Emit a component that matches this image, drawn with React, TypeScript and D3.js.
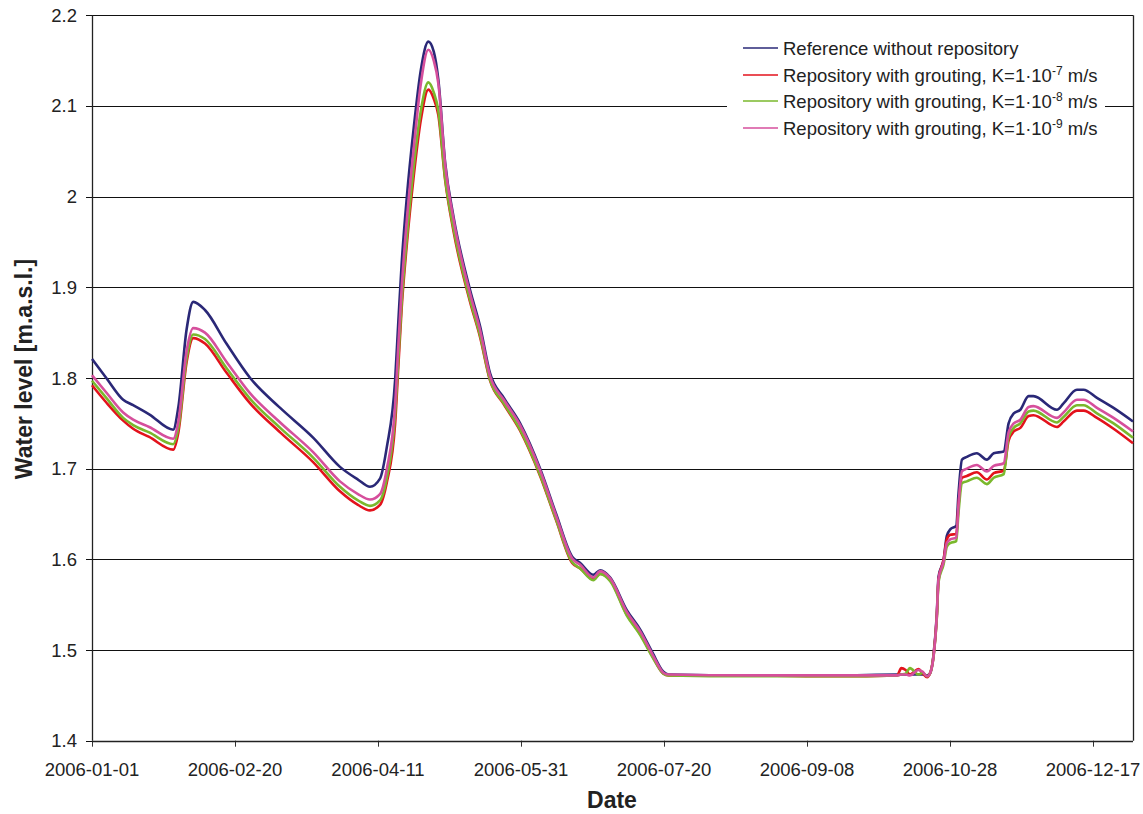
import React from "react";
import * as d3 from "d3";

const days = [0, 5, 10.9, 14.4, 20, 28.4, 30.2, 33.1, 35.4, 39.5, 47, 55.3, 65.8, 77.4, 86.7, 93, 97.2, 100.7, 103.1, 106, 107.1, 108.3, 110.1, 112.4, 115, 117.6, 119.5, 121.1, 123.5, 126.4, 132.2, 135.7, 139.2, 144, 149.7, 156.7, 162.3, 167.9, 170.7, 175.3, 177.7, 181.2, 187, 191.8, 196, 199.8, 201.6, 230, 260, 281.5, 283, 284.5, 286, 289, 290.5, 292, 293, 294.3, 295.4, 296, 297.8, 298.9, 300.1, 302.2, 303, 304.2, 305.9, 309.4, 312.9, 315.3, 318.8, 320.5, 322.3, 324.6, 327.5, 329.2, 337.4, 339.7, 344.4, 346.7, 351.4, 357.2, 364];

const reference = [1.821, 1.8, 1.776, 1.77, 1.76, 1.743, 1.768, 1.854, 1.884, 1.875, 1.838, 1.8, 1.767, 1.734, 1.702, 1.688, 1.68, 1.689, 1.724, 1.798, 1.861, 1.927, 2.0, 2.073, 2.14, 2.171, 2.16, 2.129, 2.037, 1.978, 1.897, 1.857, 1.805, 1.778, 1.75, 1.7, 1.65, 1.603, 1.596, 1.583, 1.588, 1.58, 1.544, 1.522, 1.497, 1.476, 1.473, 1.472, 1.472, 1.473, 1.473, 1.473, 1.473, 1.473, 1.473, 1.472, 1.474, 1.496, 1.54, 1.581, 1.6, 1.626, 1.633, 1.637, 1.673, 1.71, 1.713, 1.717, 1.71, 1.717, 1.719, 1.75, 1.761, 1.765, 1.78, 1.78, 1.765, 1.772, 1.787, 1.787, 1.778, 1.767, 1.752];

const groutK7 = [1.792, 1.773, 1.753, 1.744, 1.735, 1.721, 1.74, 1.818, 1.844, 1.838, 1.806, 1.772, 1.74, 1.707, 1.675, 1.66, 1.654, 1.66, 1.685, 1.75, 1.812, 1.878, 1.948, 2.02, 2.085, 2.118, 2.108, 2.09, 2.018, 1.962, 1.884, 1.845, 1.797, 1.771, 1.742, 1.692, 1.643, 1.596, 1.59, 1.578, 1.584, 1.577, 1.539, 1.517, 1.493, 1.474, 1.472, 1.472, 1.471, 1.472, 1.48, 1.478, 1.473, 1.479, 1.474, 1.47, 1.474, 1.495, 1.537, 1.577, 1.6, 1.622, 1.627, 1.628, 1.66, 1.69, 1.692, 1.696, 1.688, 1.695, 1.698, 1.731, 1.741, 1.745, 1.758, 1.759, 1.746, 1.752, 1.764, 1.764, 1.756, 1.744, 1.728];

const groutK8 = [1.797, 1.778, 1.756, 1.748, 1.74, 1.727, 1.745, 1.822, 1.848, 1.843, 1.811, 1.777, 1.745, 1.712, 1.68, 1.665, 1.659, 1.665, 1.69, 1.76, 1.82, 1.885, 1.955, 2.03, 2.095, 2.126, 2.115, 2.095, 2.02, 1.965, 1.886, 1.847, 1.798, 1.772, 1.743, 1.693, 1.644, 1.597, 1.59, 1.577, 1.584, 1.576, 1.538, 1.516, 1.492, 1.474, 1.472, 1.471, 1.471, 1.472, 1.473, 1.474, 1.48, 1.473, 1.475, 1.471, 1.474, 1.494, 1.535, 1.575, 1.595, 1.614, 1.618, 1.62, 1.652, 1.684, 1.686, 1.69, 1.683, 1.69, 1.694, 1.735, 1.745, 1.75, 1.763, 1.764, 1.751, 1.757, 1.77, 1.77, 1.761, 1.75, 1.734];

const groutK9 = [1.803, 1.784, 1.762, 1.754, 1.746, 1.733, 1.752, 1.83, 1.855, 1.85, 1.818, 1.783, 1.751, 1.718, 1.686, 1.672, 1.666, 1.672, 1.7, 1.77, 1.835, 1.9, 1.975, 2.05, 2.125, 2.162, 2.15, 2.125, 2.035, 1.975, 1.893, 1.853, 1.802, 1.776, 1.748, 1.698, 1.648, 1.601, 1.594, 1.58, 1.587, 1.579, 1.542, 1.52, 1.495, 1.475, 1.473, 1.472, 1.472, 1.472, 1.473, 1.473, 1.472, 1.478, 1.476, 1.471, 1.474, 1.494, 1.538, 1.578, 1.598, 1.618, 1.622, 1.624, 1.66, 1.697, 1.7, 1.704, 1.697, 1.703, 1.706, 1.74, 1.75, 1.754, 1.768, 1.769, 1.756, 1.762, 1.776, 1.776, 1.767, 1.756, 1.741];

const yTicks = [1.4, 1.5, 1.6, 1.7, 1.8, 1.9, 2.0, 2.1, 2.2];
const xTickStep = 50; // days
const seriesNames = ["Reference without repository", "Repository with grouting, K=1·10", "Repository with grouting, K=1·10", "Repository with grouting, K=1·10"];
const seriesExp = ["", "-7", "-8", "-9"];
const seriesColors = ["#2a2877", "#e3121c", "#7ab82c", "#d64f9c"];

const W = 1143, H = 814;
const L = 92, R = 1133, T = 15.3, B = 740.7;
const FONT = "'Liberation Sans', Arial, sans-serif";

export default function App() {
  const start = new Date(Date.UTC(2006, 0, 1));
  const end = new Date(Date.UTC(2006, 11, 31));
  const toDate = (d: number) => new Date(start.getTime() + d * 86400000);
  const x = d3.scaleUtc().domain([start, end]).range([L, R]);
  const y = d3.scaleLinear().domain([1.4, 2.2]).range([B, T]);
  const xTicks = d3.range(0, 8).map((i) => d3.utcDay.offset(start, i * xTickStep));
  const fmt = d3.utcFormat("%Y-%m-%d");
  const all = [reference, groutK7, groutK8, groutK9];
  const line = d3
    .line<number>()
    .x((_, i) => x(toDate(days[i])))
    .y((v) => y(v))
    .curve(d3.curveMonotoneX);

  const legX = 743, legY = [48, 75, 101, 128];

  return (
    <svg width={W} height={H} style={{ position: "absolute", left: 0, top: 0, background: "#fff" }} fontFamily={FONT}>
      <rect x={0} y={0} width={W} height={H} fill="#fff" />
      {yTicks.map((t) => (
        <g key={t}>
          <line x1={L - 6} x2={R} y1={Math.round(y(t)) + 0.5} y2={Math.round(y(t)) + 0.5} stroke="#111" strokeWidth={1} />
          <text x={77} y={y(t) + 6.5} textAnchor="end" fontSize={18.5} fill="#222">
            {String(+t.toFixed(1))}
          </text>
        </g>
      ))}
      {xTicks.map((t) => (
        <g key={t.getTime()}>
          <line x1={Math.round(x(t)) + 0.5} x2={Math.round(x(t)) + 0.5} y1={B} y2={B + 6} stroke="#333" strokeWidth={1} />
          <text x={x(t)} y={776} textAnchor="middle" fontSize={18.5} fill="#222">
            {fmt(t)}
          </text>
        </g>
      ))}
      <line x1={L + 0.5} x2={L + 0.5} y1={T} y2={B} stroke="#222" strokeWidth={1.3} />
      <line x1={R + 0.5} x2={R + 0.5} y1={T} y2={B} stroke="#222" strokeWidth={1.3} />
      <line x1={L} x2={R} y1={Math.round(B) + 0.5} y2={Math.round(B) + 0.5} stroke="#222" strokeWidth={1.3} />
      <rect x={727} y={32} width={378} height={110} fill="#fff" />
      {all.map((s, k) => (
        <path key={k} d={line(s) || ""} fill="none" stroke={seriesColors[k]} strokeWidth={2.6} strokeLinejoin="round" />
      ))}
      {seriesNames.map((n, k) => (
        <g key={k}>
          <line x1={legX} x2={legX + 35} y1={legY[k]} y2={legY[k]} stroke={seriesColors[k]} strokeWidth={1.5} />
          <text x={783} y={legY[k] + 6.5} fontSize={18.5} fill="#222">
            {n}
            {seriesExp[k] && (
              <tspan dy={-7} fontSize={12}>
                {seriesExp[k]}
              </tspan>
            )}
            {seriesExp[k] && <tspan dy={7}> m/s</tspan>}
          </text>
        </g>
      ))}
      <text transform={`translate(32,369) rotate(-90)`} textAnchor="middle" fontSize={23} fontWeight="bold" fill="#222">
        Water level [m.a.s.l.]
      </text>
      <text x={612} y={808} textAnchor="middle" fontSize={23} fontWeight="bold" fill="#222">
        Date
      </text>
    </svg>
  );
}
